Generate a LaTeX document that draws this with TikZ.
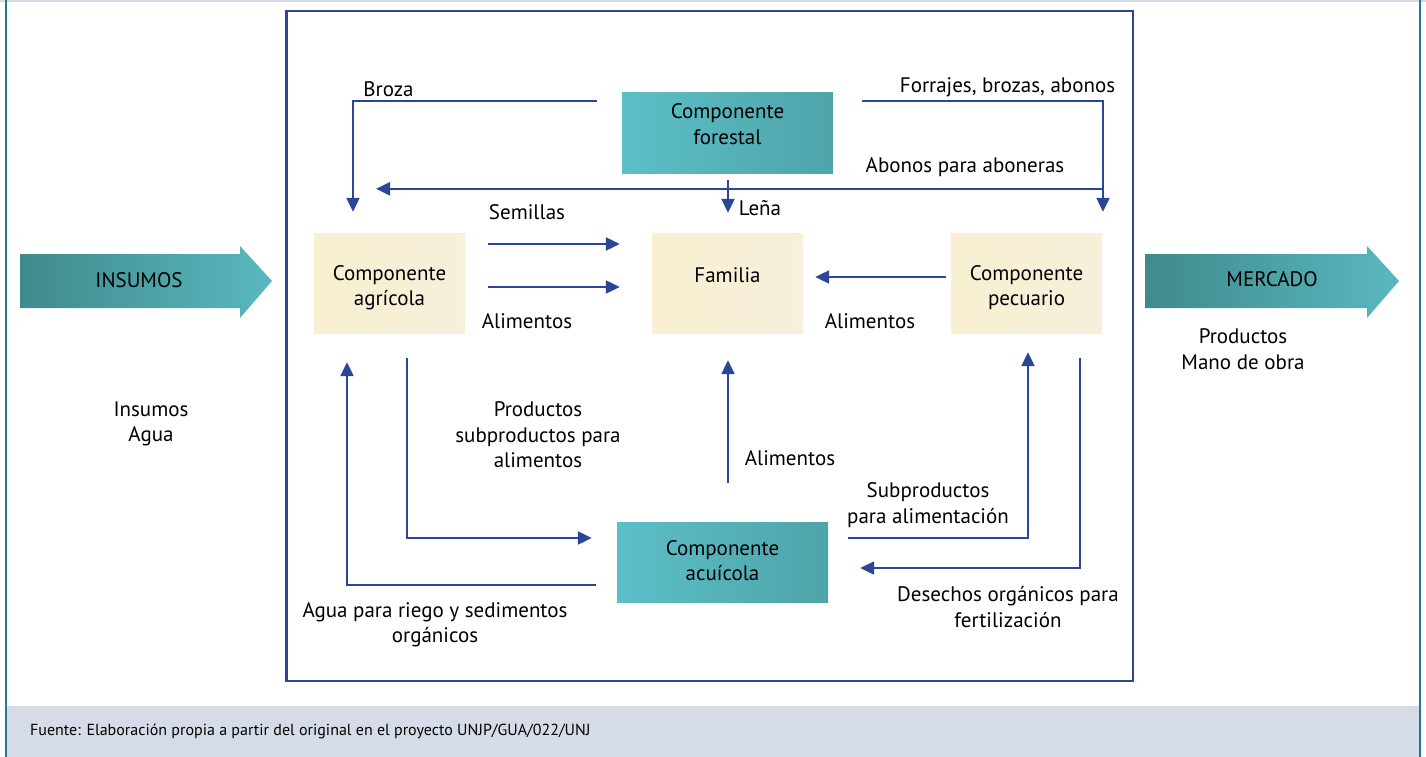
\documentclass[tikz,border=0pt]{standalone}
\usepackage{fontspec}
\setmainfont{PT Sans}
\usepackage{tikz}
\usetikzlibrary{arrows.meta, positioning, calc}
\definecolor{fblue}{HTML}{2B4597}
\definecolor{fteal}{HTML}{5CBFC8}
\definecolor{ftealdark}{HTML}{4EA4A9}
\definecolor{farrowL}{HTML}{3F8A8C}
\definecolor{farrowR}{HTML}{59B8BF}
\definecolor{fcream}{HTML}{F8F0D0}
\definecolor{fcreamR}{HTML}{F6F0DC}
\definecolor{fframe}{HTML}{23789A}
\definecolor{fband}{HTML}{D6DCE7}
\newcommand{\lblfont}{\fontsize{21}{25.5}\selectfont}
\tikzset{
  tealbox/.style={left color=fteal, right color=ftealdark, minimum width=211pt,
                  minimum height=80pt, inner sep=0pt},
  creambox/.style={left color=fcream, right color=fcreamR, minimum width=151pt,
                   minimum height=100pt, inner sep=0pt},
  flow/.style={-{Triangle[length=14pt,width=13pt]}, line width=2.2pt, fblue},
  lbl/.style={align=center, inner sep=0pt, font=\lblfont},
  bigarrow/.style={left color=farrowL, right color=farrowR},
}

\begin{document}
\begin{tikzpicture}[x=1pt, y=-1pt]

  \useasboundingbox (0,0) rectangle (1426,757);

  %% Frame and source band
  \fill[fband] (0,0) rectangle (1426,2);
  \fill[fband] (7,706) rectangle (1419,757);
  \fill[fframe] (5,0) rectangle (7,757);
  \fill[fframe] (1419,0) rectangle (1421,757);
  \node[anchor=west, inner sep=0pt, font=\fontsize{16}{19}\selectfont] (fuente) at (30,731)
    {Fuente: Elaboración propia a partir del original en el proyecto UNJP/GUA/022/UNJ};

  %% System boundary
  \draw[fblue, line width=2.2pt] (286.5,11) rectangle (1133,681);

  %% Input and output arrows
  \shade[bigarrow] (20,254) -- (240,254) -- (240,246) -- (272,281) -- (240,318)
    -- (240,308) -- (20,308) -- cycle;
  \node[lbl] (insumos) at (139,280) {INSUMOS};
  \node[lbl] (insumosTxt) at (151,424) {Insumos\\Agua};

  \shade[bigarrow] (1145,254) -- (1367,254) -- (1367,246) -- (1399,281) -- (1367,318)
    -- (1367,308) -- (1145,308) -- cycle;
  \node[lbl] (mercado) at (1272,279) {MERCADO};
  \node[lbl] (mercadoTxt) at (1243,349) {Productos\\Mano de obra};

  %% Components
  \node[tealbox] (forestal) at (727.5,133) {};
  \node[lbl] (forestalTxt) at ([yshift=9pt]forestal.center) {Componente\\forestal};
  \node[creambox] (agricola) at (389.5,283) {};
  \node[lbl] (agricolaTxt) at ([yshift=-4.5pt]agricola.center) {Componente\\agrícola};
  \node[creambox] (familia) at (727.5,283) {};
  \node[lbl] (familiaTxt) at ([yshift=8pt]familia.center) {Familia};
  \node[creambox] (pecuario) at (1026.5,283) {};
  \node[lbl] (pecuarioTxt) at ([yshift=-4.5pt]pecuario.center) {Componente\\pecuario};
  \node[tealbox] (acuicola) at (722.5,562) {};
  \node[lbl] (acuicolaTxt) at ([yshift=1.5pt]acuicola.center) {Componente\\acuícola};

  %% Flows from the forest component
  \draw[flow] ([shift={(-25,8)}]forestal.north west) -| ([shift={(-36.5,-21)}]agricola.north);
  \node[lbl] (lBroza) at (388.5,89) {Broza};
  \draw[flow] ([shift={(29,8)}]forestal.north east) -| ([shift={(76.5,-21)}]pecuario.north);
  \node[lbl] (lForrajes) at (1007.5,87) {Forrajes, brozas, abonos};
  \coordinate (abonoK) at ([shift={(76.5,-44)}]pecuario.north);
  \draw[flow] (abonoK) -- ([shift={(-13.5,-44)}]agricola.north);
  \node[lbl] (lAbonos) at (965,167) {Abonos para aboneras};
  \draw[flow] ([shift={(0.5,7)}]forestal.south) -- ([shift={(0.5,-20)}]familia.north);
  \node[lbl] (lLena) at (760,208) {Leña};

  %% Flows to the family
  \draw[flow] ([shift={(23,-39)}]agricola.east) -- ([shift={(-32,-39)}]familia.west);
  \node[lbl] (lSemillas) at (527,212) {Semillas};
  \draw[flow] ([shift={(23,4)}]agricola.east) -- ([shift={(-32,4)}]familia.west);
  \node[lbl] (lAlimA) at (527,321) {Alimentos};
  \draw[flow] ([shift={(-5,-6)}]pecuario.west) -- ([shift={(12,-6)}]familia.east);
  \node[lbl] (lAlimP) at (870,321) {Alimentos};
  \draw[flow] ([shift={(5.5,-39)}]acuicola.north) -- ([shift={(0.5,27)}]familia.south);
  \node[lbl] (lAlimF) at (790,458) {Alimentos};

  %% Flows with the aquaculture component
  \draw[flow] ([shift={(17.5,25)}]agricola.south) |- ([shift={(-25,-24)}]acuicola.west);
  \node[lbl] (lProductos) at (538,435) {Productos\\subproductos para\\alimentos};
  \draw[flow] ([shift={(-21,23)}]acuicola.west) -| ([shift={(-42.5,29)}]agricola.south);
  \node[lbl] (lAgua) at (435,625) {Agua para riego y sedimentos\\orgánicos};
  \draw[flow] ([shift={(20,-24)}]acuicola.east) -| ([shift={(1.5,19)}]pecuario.south);
  \node[lbl] (lSubprod) at (928,505) {Subproductos\\para alimentación};
  \draw[flow] ([shift={(53.5,25)}]pecuario.south) |- ([shift={(32,6)}]acuicola.east);
  \node[lbl] (lDesechos) at (1008,607) {Desechos orgánicos para\\fertilización};

\end{tikzpicture}
\end{document}
